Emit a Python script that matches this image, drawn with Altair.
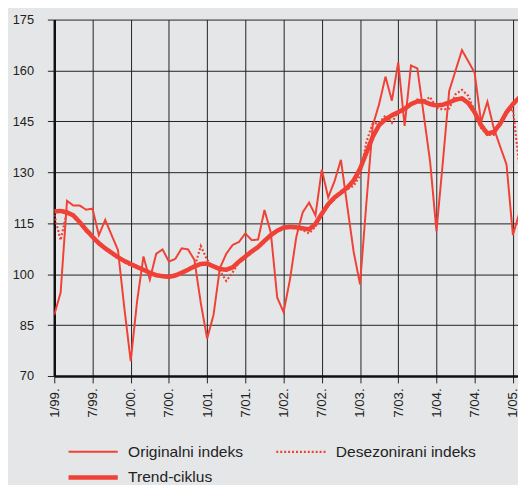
import altair as alt
import pandas as pd

# ---- data ----
tick_labels = ["1/99.", "7/99.", "1/00.", "7/00.", "1/01.", "7/01.", "1/02.",
               "7/02.", "1/03.", "7/03.", "1/04.", "7/04.", "1/05."]
tick_months = list(range(0, 73, 6))
y_ticks = [70, 85, 100, 115, 130, 145, 160, 175]
series_names = ["Originalni indeks", "Desezonirani indeks", "Trend-ciklus"]

original = [
    88, 94.6, 121.6, 120.2, 120.2, 119.0, 119.3, 111.5, 116.0, 111.5, 107.1, 90, 74.4,
    92, 105.2, 98.4, 106.0, 107.3, 103.7, 104.5, 107.6, 107.3, 104.2, 91.5, 81,
    88, 101.8, 106, 108.6, 109.5, 112, 110, 110.2, 118.9, 112.2, 93.1, 88.8,
    98.4, 111, 118.2, 121.1, 117.3, 130.8, 122.6, 127.4, 133.7, 120, 106.6, 97,
    121, 143.8, 150.1, 158.2, 151.1, 162.4, 143.7, 161.5, 160.6, 147, 133.2, 112.7,
    133, 154, 160, 166, 162.7, 159.3, 144.8, 150.8, 143, 137.6, 132.3, 111.5, 118,
]
deseasonalized = [
    117.5, 110, 118.5, 117.5, 115, 112.5, 111, 109.5, 107.5, 106, 105, 103.5, 102.5,
    102, 101.5, 100, 99.5, 99.5, 98.8, 100, 100, 101.5, 102, 108.3, 104.2,
    102, 101, 98, 100.5, 103.5, 105, 107, 108, 109.5, 111.3, 113, 114,
    114.2, 113.5, 113, 112, 114, 118, 120.5, 122, 124.5, 125, 126, 129,
    139, 144.4, 144.5, 146.8, 144.6, 148, 149, 150, 151.5, 151, 152.2, 149,
    148.5, 148.8, 153, 154.3, 152.5, 148, 143, 141, 141, 144.5, 147.7, 148.6, 132,
]
trend = [
    118.5, 118.6, 118.2, 117.3, 115.3, 113.1, 111, 109.1, 107.6, 106.3, 105, 103.9, 103.0,
    102.1, 101.3, 100.4, 99.7, 99.4, 99.2, 99.6, 100.4, 101.3, 102.3, 103.0, 103.1,
    102.3, 101.5, 101.3, 102.0, 103.7, 105.2, 106.7, 108.0, 109.8, 111.5, 112.8, 113.7,
    113.9, 113.8, 113.5, 113.2, 114.8, 117.8, 120.6, 122.6, 124, 125.5, 127.6, 131,
    135.8, 140.5, 143.9, 145.6, 146.8, 147.7, 148.7, 150.1, 150.9, 150.9, 150.1, 149.7,
    149.9, 150.6, 151.4, 151.8, 150.4, 147.7, 143.9, 141.4, 141.9, 144.3, 147.7, 150.1, 152,
]

rows = []
for name, vals in zip(series_names, [original, deseasonalized, trend]):
    for m, v in enumerate(vals):
        rows.append({"month": m, "value": v, "series": name})
df = pd.DataFrame(rows)

red = "#ef4136"
font = "Liberation Sans"
label_expr = "[" + ",".join("'" + t + "'" for t in tick_labels) + "][round(datum.value / 6)]"

x_axis = alt.Axis(values=tick_months, labelExpr=label_expr, labelAngle=270,
                  labelAlign="right", labelBaseline="middle", labelPadding=5,
                  labelFontSize=13.5, labelFont=font, labelColor="#222",
                  tickSize=7, tickColor="#222", tickWidth=1,
                  domainColor="#111", domainWidth=2.5,
                  grid=True, gridColor="#222", gridWidth=1)
y_axis = alt.Axis(values=y_ticks, labelPadding=14, labelFontSize=13, labelFont=font,
                  labelColor="#222", tickSize=7, tickColor="#222", tickWidth=1,
                  domainColor="#111", domainWidth=2.5,
                  grid=True, gridColor="#222", gridWidth=1)

legend = alt.Legend(orient="none", direction="horizontal", legendX=12, legendY=431,
                    columns=2, symbolType="stroke", symbolSize=2500, clipHeight=16,
                    labelFontSize=15.8, labelFont=font, labelColor="#222",
                    labelOffset=8, columnPadding=31, rowPadding=10, padding=0)

chart = alt.Chart(df).mark_line(clip=True, strokeCap="butt").encode(
    x=alt.X("month:Q", title=None,
            scale=alt.Scale(domain=[0, 72.8], nice=False, zero=False), axis=x_axis),
    y=alt.Y("value:Q", title=None,
            scale=alt.Scale(domain=[70, 175], nice=False, zero=False), axis=y_axis),
    color=alt.Color("series:N", title=None,
                    scale=alt.Scale(domain=series_names, range=[red, red, red]),
                    legend=legend),
    strokeDash=alt.StrokeDash("series:N", title=None,
                              scale=alt.Scale(type="ordinal", domain=series_names,
                                              range=[[1, 0], [2, 2], [1, 0]]),
                              legend=legend),
    strokeWidth=alt.StrokeWidth("series:N", title=None,
                                scale=alt.Scale(type="ordinal", domain=series_names,
                                                range=[2.0, 2.2, 4.6]),
                                legend=legend),
    order=alt.Order("month:Q"),
).properties(
    width=471, height=362,
    autosize=alt.AutoSizeParams(type="none"),
    padding={"left": 47, "top": 8, "right": 0, "bottom": 110},
    background="#e5e6e8",
).configure_view(stroke="transparent")

chart.save("out.html", embed_options={"renderer": "svg", "actions": False})
